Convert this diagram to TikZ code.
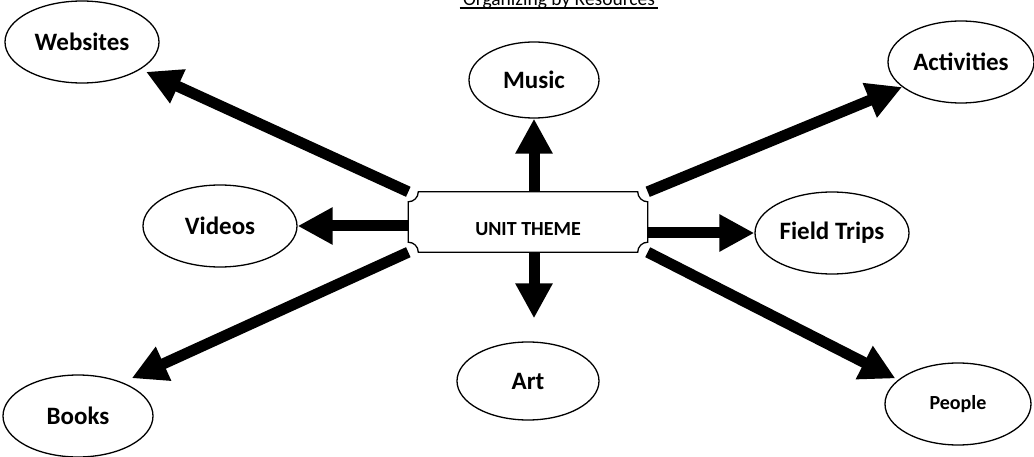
\documentclass[tikz,border=0pt]{standalone}
\usepackage{fontspec}
\setmainfont{Carlito}
\usepackage{tikz}
\usetikzlibrary{arrows.meta,shapes.geometric}

\begin{document}
\begin{tikzpicture}[x=1pt, y=1pt, >={Triangle[width=35pt,length=35pt]},
      every node/.append style={font=\bfseries\fontsize{25}{25}\selectfont}]
    \tikzstyle{resource} = [draw, ellipse, line width=1.3pt, minimum width=154pt, minimum height=82pt, inner sep=0pt]
    \tikzstyle{bigarrow} = [->, line width=11pt]
    \useasboundingbox (0,0) rectangle (1034,-457);
    \node (title) at (559,-5.5) [anchor=base, font=\fontsize{19.5}{19.5}\selectfont] {Organizing by Resources};
    \draw[line width=2.6pt] ([yshift=-2.5pt]title.base west) -- ([yshift=-2.5pt]title.base east);
    \node (theme) at (528,-222) [minimum width=239pt, minimum height=60pt, text height=28pt, text depth=0pt,
      font=\bfseries\fontsize{20}{20}\selectfont] {UNIT THEME};
    \draw[line width=1.3pt] ([xshift=10pt]theme.north west) -- ([xshift=-10pt]theme.north east)
      arc[start angle=180, end angle=270, radius=10pt] -- ([yshift=10pt]theme.south east)
      arc[start angle=90, end angle=180, radius=10pt] -- ([xshift=10pt]theme.south west)
      arc[start angle=0, end angle=90, radius=10pt] -- ([yshift=-10pt]theme.north west)
      arc[start angle=270, end angle=360, radius=10pt] -- cycle;
    \node (websites) at (82,-42) [resource] {Websites};
    \node (music) at (534,-80) [resource, minimum width=130pt, minimum height=76pt] {Music};
    \node (activities) at (961,-62) [resource, minimum width=146pt] {Activities};
    \node (videos) at (220,-226) [resource] {Videos};
    \node (fieldtrips) at (832,-233) [resource] {Field Trips};
    \node (art) at (528,-381) [resource, minimum width=142pt, minimum height=78pt] {Art};
    \node (books) at (78,-416) [resource, minimum width=150pt] {Books};
    \node (people) at (958,-404) [resource, minimum width=146pt, font=\bfseries\fontsize{20}{20}\selectfont] {People};
    \draw[bigarrow, shorten >=6pt] (theme.north west) -- (websites.-25);
    \draw[bigarrow] (theme.north -| music) -- (music);
    \draw[bigarrow] (theme.north east) -- (activities.203);
    \draw[bigarrow] (theme.west |- videos) -- (videos);
    \draw[bigarrow] (theme.east |- fieldtrips) -- (fieldtrips);
    \draw[bigarrow, shorten >=23pt] (theme.south -| music) -- (music |- art.north);
    \draw[bigarrow, shorten >=10pt] (theme.south west) -- (books.37);
    \draw[bigarrow, shorten >=3pt] (theme.south east) -- (people.158);
\end{tikzpicture}
\end{document}
